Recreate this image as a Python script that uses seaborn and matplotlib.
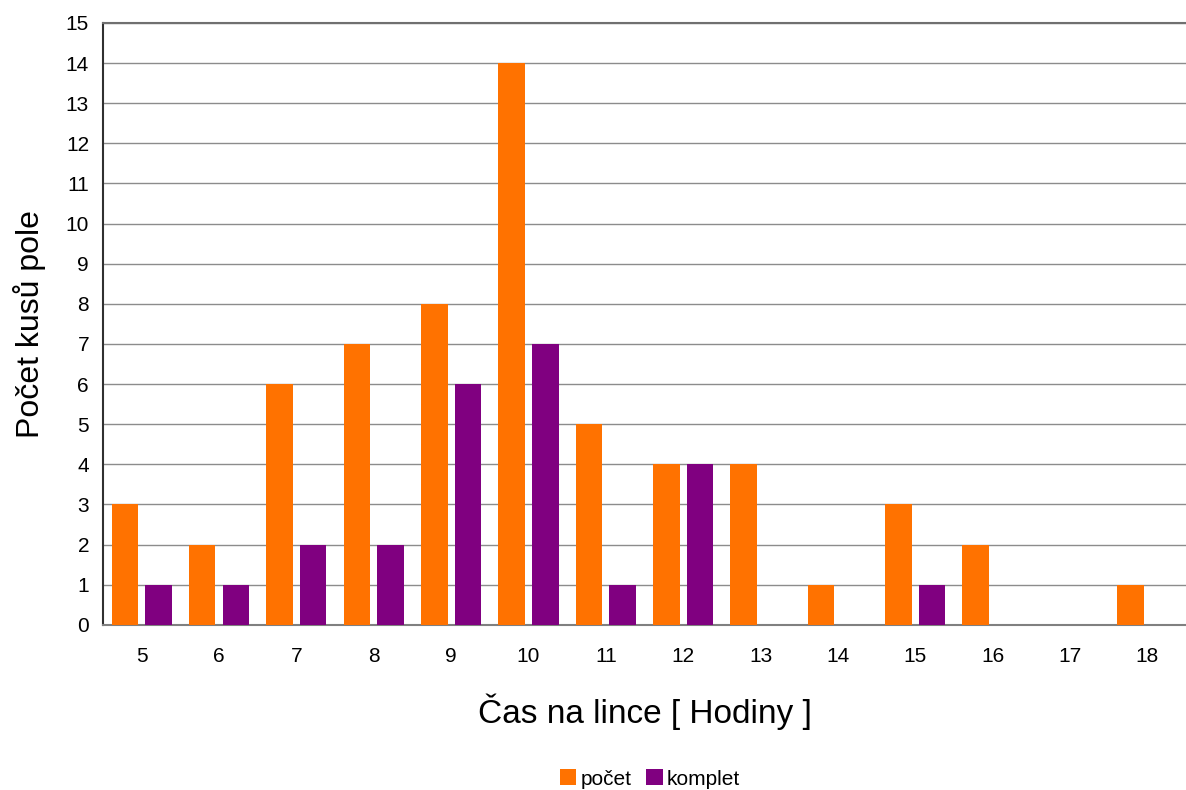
import pandas as pd
import matplotlib.pyplot as plt
import seaborn as sns

hodiny = [5, 6, 7, 8, 9, 10, 11, 12, 13, 14, 15, 16, 17, 18]
pocet = [3, 2, 6, 7, 8, 14, 5, 4, 4, 1, 3, 2, 0, 1]
komplet = [1, 1, 2, 2, 6, 7, 1, 4, 0, 0, 1, 0, 0, 0]

data = pd.DataFrame({
    'hodiny': [str(h) for h in hodiny] * 2,
    'hodnota': pocet + komplet,
    'serie': ['počet'] * len(hodiny) + ['komplet'] * len(hodiny),
})

sns.set_style('white')
plt.rcParams['font.family'] = ['Liberation Sans', 'DejaVu Sans']
plt.rcParams['text.color'] = 'black'
plt.rcParams['axes.labelcolor'] = 'black'
plt.rcParams['xtick.color'] = 'black'
plt.rcParams['ytick.color'] = 'black'

fig = plt.figure(figsize=(11.86, 7.9), dpi=100)
ax = fig.add_axes([0.0868, 0.209, 0.9132, 0.762])

sns.barplot(data=data, x='hodiny', y='hodnota', hue='serie',
            palette=['#ff7200', '#800080'], width=0.87, gap=0.21,
            saturation=1, linewidth=0, ax=ax, legend=True, zorder=3)

ax.set_ylim(0, 15)
ax.set_yticks(range(0, 16))
ax.set_xlim(-0.5, len(hodiny) - 0.5)
ax.yaxis.grid(True, color='#8c8c8c', linewidth=1, zorder=0)
ax.set_axisbelow(True)
ax.tick_params(axis='both', labelsize=15, length=0)
ax.tick_params(axis='x', pad=16)
ax.tick_params(axis='y', pad=10)

ax.spines['right'].set_visible(False)
ax.spines['top'].set_color('#707070')
ax.spines['top'].set_linewidth(1.5)
ax.spines['left'].set_color('#303030')
ax.spines['left'].set_linewidth(1.5)
ax.spines['bottom'].set_color('#808080')
ax.spines['bottom'].set_linewidth(1.5)

ax.set_xlabel('Čas na lince [ Hodiny ]', fontsize=24, labelpad=20)
ax.set_ylabel('Počet kusů pole', fontsize=23, labelpad=14)

ax.legend(loc='center', bbox_to_anchor=(0.505, -0.256),
          ncol=2, frameon=False, fontsize=15, handlelength=0.8,
          handleheight=0.8, handletextpad=0.2, columnspacing=0.7)

plt.savefig('out.png', dpi=100)
